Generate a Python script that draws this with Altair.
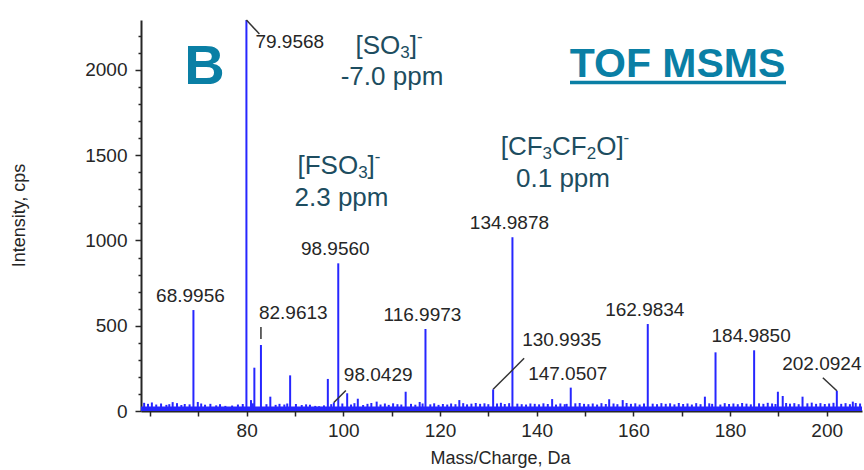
import altair as alt
import pandas as pd

# ---------------- data ----------------
# labelled peaks (m/z, intensity in cps)
peak_mz = [68.9956, 79.9568, 82.9613, 98.0429, 98.9560, 116.9973, 130.9935,
           134.9878, 147.0507, 162.9834, 184.9850, 202.0924]
peak_int = [592, 2293, 387, 50, 866, 481, 127, 1019, 137, 510, 356, 119]
peak_txt = ["68.9956", "79.9568", "82.9613", "98.0429", "98.9560", "116.9973",
            "130.9935", "134.9878", "147.0507", "162.9834", "184.9850", "202.0924"]

# unlabelled peaks
minor_mz = [64.7, 69.9, 80.9, 81.6, 84.9, 89.0, 96.8, 100.8, 103.0, 106.9,
            112.9, 115.8, 124.0, 143.2, 155.0, 157.8, 174.8, 177.0, 189.9,
            190.9, 195.0, 205.4]
minor_int = [52, 53, 64, 254, 84, 209, 188, 104, 72, 55,
             113, 53, 64, 70, 69, 64, 84, 344, 113,
             88, 84, 55]

# baseline noise spikes
noise_mz = [58.8, 59.6, 60.4, 61.3, 62.3, 63.4, 64.0, 65.6, 66.5, 67.2, 68.2,
            70.6, 71.4, 72.5, 73.7, 74.5, 75.6, 77.0, 78.2, 79.2, 81.3, 84.1,
            86.0, 86.8, 87.8, 88.4, 90.2, 91.4, 92.3, 93.1, 94.2, 95.0, 96.0,
            97.5, 99.8, 101.6, 102.3, 104.1, 105.0, 105.8, 107.7, 108.6, 109.4,
            110.3, 111.2, 112.0, 114.0, 114.9, 116.4, 118.0, 118.8, 119.7,
            120.6, 121.5, 122.3, 123.2, 124.8, 125.6, 126.5, 127.4, 128.3,
            129.2, 130.0, 131.8, 132.6, 133.4, 134.3, 136.0, 136.9, 137.8,
            138.7, 139.6, 140.5, 141.4, 142.3, 144.0, 144.9, 145.8, 146.2,
            148.0, 148.9, 149.8, 150.7, 151.6, 152.5, 153.4, 154.3, 155.9,
            156.7, 158.6, 159.5, 160.4, 161.3, 162.2, 164.0, 164.9, 165.8,
            166.7, 167.6, 168.5, 169.4, 170.3, 171.2, 172.1, 173.0, 173.9,
            175.7, 176.3, 178.0, 178.9, 179.8, 180.7, 181.6, 182.5, 183.4,
            184.3, 186.0, 186.9, 187.8, 188.7, 189.4, 191.6, 192.4, 193.3,
            194.2, 196.0, 196.9, 197.8, 198.7, 199.6, 200.5, 201.4, 203.0,
            203.9, 204.8, 206.0, 206.9]
noise_int = [48, 42, 50, 38, 44, 36, 40, 46, 35, 41, 39,
             44, 37, 42, 33, 40, 30, 32, 38, 41, 45, 40,
             36, 42, 38, 44, 41, 35, 39, 37, 30, 28, 33,
             40, 44, 38, 46, 35, 42, 47, 38, 44, 36,
             45, 40, 38, 42, 37, 44, 39, 45, 36,
             41, 38, 44, 40, 46, 39, 43, 47, 42,
             45, 40, 44, 48, 41, 46, 43, 40, 38,
             44, 42, 39, 45, 41, 38, 44, 40, 42,
             45, 47, 42, 40, 44, 38, 46, 41, 44,
             40, 47, 42, 45, 38, 44, 43, 40, 46,
             42, 45, 39, 47, 41, 44, 38, 46, 40,
             45, 42, 38, 46, 41, 44, 40, 47, 43,
             39, 45, 42, 48, 44, 41, 47, 43, 46,
             40, 45, 49, 42, 46, 41, 44, 48, 42,
             46, 40, 47, 44]
floor_level = 26

x_ticks = [60, 70, 80, 90, 100, 110, 120, 130, 140, 150, 160, 170, 180, 190, 200]
y_ticks = [0, 100, 200, 300, 400, 500, 600, 700, 800, 900, 1000, 1100, 1200,
           1300, 1400, 1500, 1600, 1700, 1800, 1900, 2000, 2100, 2200]

# ---------------- layout constants ----------------
W, H = 721, 391
XMIN, XMAX = 58.15, 207.3
YMAX = 2293
PXX = W / (XMAX - XMIN)
PXY = H / YMAX
BLUE = "#2626ff"
DARK = "#262626"
TEAL = "#0a7fa5"
SLATE = "#1d4d60"
FONT = "Liberation Sans"

xs = alt.Scale(domain=[XMIN, XMAX], nice=False, zero=False)
ys = alt.Scale(domain=[0, YMAX], nice=False)

peaks = pd.DataFrame({"mz": peak_mz + minor_mz + noise_mz,
                      "inten": peak_int + minor_int + noise_int})
peaks["base"] = 0
labels = pd.DataFrame({"mz": peak_mz, "inten": peak_int, "txt": peak_txt})

x_axis = alt.Axis(values=x_ticks, title="Mass/Charge, Da", format="d",
                  labelExpr="datum.value >= 80 && datum.value % 20 === 0 ? datum.label : ''",
                  labelOverlap=False,
                  grid=False, domainColor=DARK, domainWidth=2, tickColor=DARK,
                  tickWidth=1.5, tickSize=5, labelPadding=5, labelFont=FONT,
                  labelFontSize=19, labelColor=DARK, titleFont=FONT,
                  titleFontSize=18, titleFontWeight="normal", titleColor=DARK,
                  titleX=359, titleY=47, titleBaseline="middle", labelFlush=False)
y_axis = alt.Axis(values=y_ticks, title="Intensity, cps", format="d",
                  labelExpr="datum.value % 500 === 0 ? datum.label : ''",
                  labelOverlap=False,
                  grid=False, domainColor=DARK, domainWidth=2, tickColor=DARK,
                  tickWidth=1.5,
                  tickSize={"condition": {"test": "datum.value % 500 === 0", "value": 6}, "value": 3},
                  labelPadding=8, labelFont=FONT, labelFontSize=19,
                  labelColor=DARK, titleFont=FONT, titleFontSize=18,
                  titleFontWeight="normal", titleColor=DARK, titleAngle=270,
                  titleX=-122, titleY=195, titleAlign="center",
                  titleBaseline="middle", labelFlush=False)

floor = alt.Chart(pd.DataFrame({"a": [XMIN], "b": [XMAX], "lo": [0], "hi": [floor_level]})).mark_rect(
    color=BLUE, clip=True).encode(
    x=alt.X("a:Q", scale=xs, axis=x_axis), x2="b:Q",
    y=alt.Y("lo:Q", scale=ys, axis=y_axis), y2="hi:Q")

sticks = alt.Chart(peaks).mark_rule(color=BLUE, strokeWidth=2, clip=True).encode(
    x=alt.X("mz:Q", scale=xs, axis=x_axis), y=alt.Y("inten:Q", scale=ys, axis=y_axis), y2="base:Q")

std = ["68.9956", "98.9560", "116.9973", "134.9878", "147.0507", "162.9834", "184.9850"]
std_labels = alt.Chart(labels[labels.txt.isin(std)]).mark_text(
    font=FONT, fontSize=19, color=DARK, dx=-3, dy=-14, baseline="middle").encode(
    x=alt.X("mz:Q", scale=xs, axis=x_axis), y=alt.Y("inten:Q", scale=ys, axis=y_axis), text="txt:N")

# special labels: (label, dx, dy, align) and leader (x1,y1,x2,y2) in pixel offsets from peak top
special = {
    "79.9568": ((9, 22, "left"), (0, 0, 13, 14)),
    "82.9613": ((-2, -32, "left"), (0, -6, 0, -18)),
    "98.0429": ((10, -27, "left"), (0, 0, 12, -12)),
    "130.9935": ((29, -49, "left"), (0, 0, 31, -31)),
    "202.0924": ((-15, -27, "center"), (-14, -13, 0, 0)),
}
layers = [floor, sticks, std_labels]
lead_rows = []
for t, ((dx, dy, al), (a1, b1, a2, b2)) in special.items():
    row = labels[labels.txt == t]
    layers.append(alt.Chart(row).mark_text(font=FONT, fontSize=19, color=DARK, dx=dx,
                                           dy=dy, align=al, baseline="middle").encode(
        x=alt.X("mz:Q", scale=xs, axis=x_axis), y=alt.Y("inten:Q", scale=ys, axis=y_axis),
        text="txt:N"))
    mz, it = float(row.mz.iloc[0]), float(row.inten.iloc[0])
    lead_rows.append({"x1": mz + a1 / PXX, "y1": it - b1 / PXY,
                      "x2": mz + a2 / PXX, "y2": it - b2 / PXY})
leaders = alt.Chart(pd.DataFrame(lead_rows)).mark_rule(color="#333333", strokeWidth=1.5).encode(
    x=alt.X("x1:Q", scale=xs, axis=x_axis), y=alt.Y("y1:Q", scale=ys, axis=y_axis),
    x2="x2:Q", y2="y2:Q")
layers.append(leaders)

# ---------------- chemical annotations with sub/superscripts ----------------
AW = {'[': 278, ']': 278, 'S': 667, 'O': 778, 'F': 611, 'C': 722, '2': 556, '3': 556, '-': 333}
MAIN_FS, SUB_FS = 26, 17


def formula(parts, cx, cy):
    rows = []
    widths = [sum(AW[c] for c in t) * (MAIN_FS if k == "n" else SUB_FS) / 1000 for t, k in parts]
    x = cx - sum(widths) / 2
    for (t, k), w in zip(parts, widths):
        rows.append({"t": t, "x": x - 141, "y": cy - 20 + {"n": 0, "b": 7, "p": -9}[k],
                     "fs": MAIN_FS if k == "n" else SUB_FS})
        x += w
    return rows


ann = []
ann += formula([("[SO", "n"), ("3", "b"), ("]", "n"), ("-", "p")], 389, 46)
ann += formula([("[FSO", "n"), ("3", "b"), ("]", "n"), ("-", "p")], 339, 166)
ann += formula([("[CF", "n"), ("3", "b"), ("CF", "n"), ("2", "b"), ("O]", "n"), ("-", "p")], 565, 147)
ann_df = pd.DataFrame(ann)
layers.append(alt.Chart(ann_df).mark_text(font=FONT, color=SLATE, align="left", baseline="middle").encode(
    x=alt.X("x:Q", scale=None), y=alt.Y("y:Q", scale=None), text="t:N",
    size=alt.Size("fs:Q", scale=None, legend=None)))

ppm = pd.DataFrame({"t": ["-7.0 ppm", "2.3 ppm", "0.1 ppm"],
                    "x": [392 - 141, 341.5 - 141, 563 - 141],
                    "y": [77 - 20, 198 - 20, 179 - 20]})
layers.append(alt.Chart(ppm).mark_text(font=FONT, fontSize=MAIN_FS, color=SLATE, align="center",
                                       baseline="middle").encode(
    x=alt.X("x:Q", scale=None), y=alt.Y("y:Q", scale=None), text="t:N"))

one = pd.DataFrame({"k": [0]})
layers.append(alt.Chart(one).mark_text(text="B", font=FONT, fontSize=56, fontWeight="bold",
                                       color=TEAL, align="center", baseline="alphabetic").encode(
    x=alt.value(204.5 - 141), y=alt.value(84 - 20)))
layers.append(alt.Chart(one).mark_text(text="TOF MSMS", font=FONT, fontSize=41, fontWeight="bold",
                                       color=TEAL, align="center", baseline="alphabetic").encode(
    x=alt.value(677.5 - 141), y=alt.value(77 - 20)))
layers.append(alt.Chart(one).mark_rule(color=TEAL, strokeWidth=3.5).encode(
    x=alt.value(570 - 141), x2=alt.value(786 - 141), y=alt.value(82.5 - 20)))

chart = alt.layer(*layers).properties(
    width=W, height=H, autosize="none",
    padding={"left": 141, "top": 20, "right": 2, "bottom": 59},
    background="white"
).configure_view(stroke=None).configure_axis(labelOverlap=False)

chart.save("out.html", embed_options={"renderer": "svg", "actions": False})
